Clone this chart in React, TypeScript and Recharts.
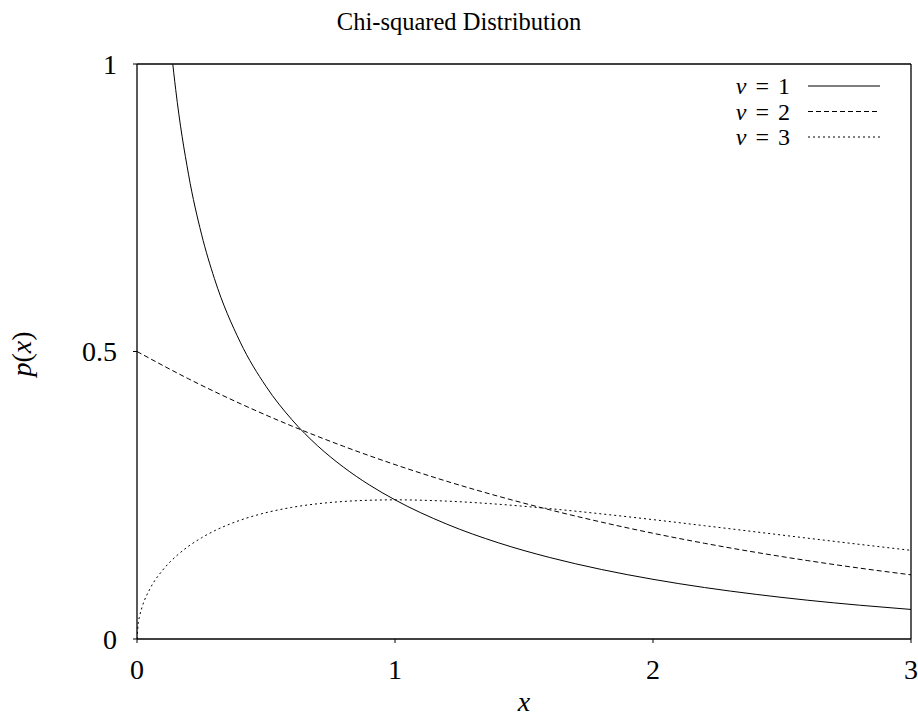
import { LineChart, Line, XAxis, YAxis, ReferenceLine } from 'recharts';

// x positions and densities
const xsNu1 = [0.1, 0.12, 0.15, 0.2, 0.25, 0.3, 0.4, 0.5, 0.6, 0.7, 0.8, 0.9, 1.0, 1.2, 1.4, 1.6, 1.8, 2.0, 2.2, 2.4, 2.6, 2.8, 3.0];
const nu1 = [1.2, 1.0846, 0.9557, 0.8072, 0.7041, 0.6269, 0.5164, 0.4394, 0.3816, 0.336, 0.299, 0.2681, 0.242, 0.1999, 0.1674, 0.1417, 0.1209, 0.1038, 0.0895, 0.0776, 0.0674, 0.0588, 0.0514];

const xsNu2 = [0, 0.2, 0.4, 0.6, 0.8, 1.0, 1.2, 1.4, 1.6, 1.8, 2.0, 2.2, 2.4, 2.6, 2.8, 3.0];
const nu2 = [0.5, 0.4524, 0.4094, 0.3704, 0.3352, 0.3033, 0.2744, 0.2483, 0.2247, 0.2033, 0.1839, 0.1664, 0.1506, 0.1363, 0.1233, 0.1116];

const xsNu3 = [0, 0.005, 0.01, 0.02, 0.05, 0.1, 0.15, 0.2, 0.25, 0.3, 0.4, 0.5, 0.6, 0.7, 0.8, 0.9, 1.0, 1.2, 1.4, 1.6, 1.8, 2.0, 2.2, 2.4, 2.6, 2.8, 3.0];
const nu3 = [0, 0.0281, 0.0397, 0.0559, 0.087, 0.12, 0.1433, 0.1614, 0.176, 0.1881, 0.2066, 0.2197, 0.2289, 0.2352, 0.2392, 0.2413, 0.242, 0.2398, 0.2344, 0.2267, 0.2176, 0.2076, 0.197, 0.1862, 0.1753, 0.1646, 0.1542];

const xTicks = [0, 1, 2, 3];
const yTicks = [0, 0.5, 1];
const legendLabels = ['1', '2', '3'];

const toPoints = (xs: number[], ys: number[]) => xs.map((x, i) => ({ x, y: ys[i] }));

const FONT = '"Liberation Serif", "DejaVu Serif", serif';
const TITLE_FS = 24.5;
const FS = 28;
const LEGEND_FS = 24;
const dashes = ['', '5 3', '2 3'];

export default function App() {
  const series = [toPoints(xsNu1, nu1), toPoints(xsNu2, nu2), toPoints(xsNu3, nu3)];

  return (
    <div style={{ position: 'absolute', left: 0, top: 0, width: 918, height: 720, background: '#fff', fontFamily: FONT }}>
      <div style={{ position: 'absolute', top: 8, left: 0, width: 918, textAlign: 'center', fontSize: TITLE_FS, color: '#000', lineHeight: '28px' }}>
        Chi-squared Distribution
      </div>
      <LineChart width={918} height={720} margin={{ top: 64, right: 7, left: 0, bottom: 0 }}>
        <XAxis
          type="number"
          dataKey="x"
          domain={[0, 3]}
          ticks={xTicks}
          allowDataOverflow
          height={81}
          tickSize={4}
          tickMargin={16}
          axisLine={{ stroke: '#000', strokeWidth: 1.3 }}
          tickLine={{ stroke: '#000' }}
          tick={{ fill: '#000', fontSize: FS, fontFamily: FONT }}
          label={{
            content: () => (
              <text x={524} y={711} textAnchor="middle" fontSize={FS} fontStyle="italic" fontFamily={FONT} fill="#000">x</text>
            ),
          }}
        />
        <YAxis
          type="number"
          dataKey="y"
          domain={[0, 1]}
          ticks={yTicks}
          allowDataOverflow
          width={137}
          tickSize={4}
          tickMargin={16}
          axisLine={{ stroke: '#000', strokeWidth: 1.3 }}
          tickLine={{ stroke: '#000' }}
          tick={{ fill: '#000', fontSize: FS, fontFamily: FONT }}
          label={{
            content: () => (
              <text x={31} y={354} transform="rotate(-90 31 354)" textAnchor="middle" fontSize={FS} fontFamily={FONT} fill="#000">
                <tspan fontStyle="italic">p</tspan>(<tspan fontStyle="italic">x</tspan>)
              </text>
            ),
          }}
        />
        <ReferenceLine y={1} stroke="#000" strokeWidth={1.3} />
        <ReferenceLine x={3} stroke="#000" strokeWidth={1.3} />
        {series.map((d, i) => (
          <Line
            key={i}
            data={d}
            dataKey="y"
            type="monotone"
            stroke="#000"
            strokeWidth={1}
            strokeDasharray={dashes[i] || undefined}
            dot={false}
            activeDot={false}
            isAnimationActive={false}
          />
        ))}
      </LineChart>
      <svg style={{ position: 'absolute', left: 700, top: 70, overflow: 'visible' }} width={200} height={80}>
        {legendLabels.map((lab, i) => (
          <g key={lab}>
            <text x={90} y={24 + i * 25.5} textAnchor="end" fontSize={LEGEND_FS} fontFamily={FONT} fill="#000">
              <tspan fontStyle="italic">ν</tspan>
              <tspan dx={9}>=</tspan>
              <tspan dx={9}>{lab}</tspan>
            </text>
            <line x1={108} x2={180} y1={16 + i * 25.5} y2={16 + i * 25.5} stroke="#000" strokeWidth={1} strokeDasharray={dashes[i] || undefined} />
          </g>
        ))}
      </svg>
    </div>
  );
}
